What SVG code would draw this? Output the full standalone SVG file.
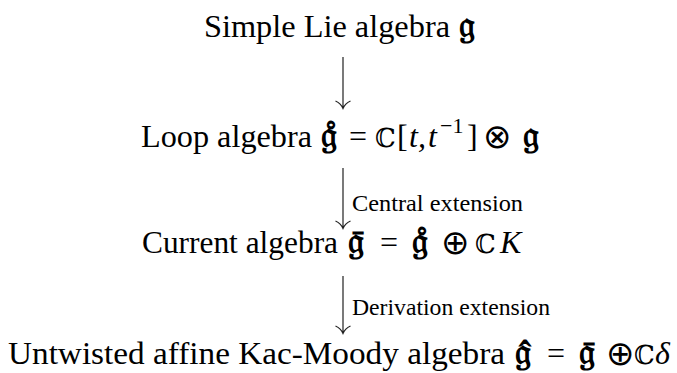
<svg xmlns="http://www.w3.org/2000/svg" width="677" height="373" viewBox="0 0 677 373">
<style>
.t{font-family:"Liberation Serif",serif;font-size:32px;fill:#000}
.i{font-family:"Liberation Serif",serif;font-size:32px;font-style:italic;fill:#000}
.m{font-family:"DejaVu Serif",serif;font-size:26px;fill:#000}
.o{font-family:"DejaVu Sans",sans-serif;font-size:34px;font-weight:200;fill:#000}
.f{font-family:"DejaVu Sans","DejaVu Serif",sans-serif;font-size:36px;font-weight:bold;fill:#000}
.l{font-family:"Liberation Serif",serif;font-size:23px;fill:#000}
.s{font-family:"Liberation Serif",serif;font-size:22px;fill:#000}
.c{fill:none;stroke:#222;stroke-width:1.2}
</style>
<g id="connectors">
<path class="c" d="M343,57 V108 M335.5,101 Q341,103.5 343,108.5 Q345,103.5 350.5,101"/>
<path class="c" d="M343,168 V228 M335.5,221 Q341,223.5 343,228.5 Q345,223.5 350.5,221"/>
<path class="c" d="M343,276 V333 M335.5,326 Q341,328.5 343,333.5 Q345,328.5 350.5,326"/>
<text class="l" x="352" y="211" textLength="171" lengthAdjust="spacingAndGlyphs">Central extension</text>
<text class="l" x="352" y="315" textLength="198" lengthAdjust="spacingAndGlyphs">Derivation extension</text>
</g>
<g id="simple">
<text class="t" x="204" y="37" textLength="246" lengthAdjust="spacingAndGlyphs">Simple Lie algebra</text>
<text class="f" x="459" y="37">𝔤</text>
</g>
<g id="loop">
<text class="t" x="141" y="147" textLength="171" lengthAdjust="spacingAndGlyphs">Loop algebra</text>
<text class="f" x="321" y="147">𝔤̊</text>
<text class="t" x="349" y="147">=</text>
<text class="m" x="375" y="147">ℂ</text>
<text class="t" x="397" y="147">[</text>
<text class="i" x="409" y="147">t,</text>
<text class="i" x="428" y="147">t</text>
<text class="s" x="440" y="133">−1</text>
<text class="t" x="467" y="147">]</text>
<text class="o" x="483" y="148">⊗</text>
<text class="f" x="523" y="147">𝔤</text>
</g>
<g id="current">
<text class="t" x="142" y="253" textLength="196" lengthAdjust="spacingAndGlyphs">Current algebra</text>
<text class="f" x="348" y="253">𝔤̄</text>
<text class="t" x="380" y="253">=</text>
<text class="f" x="412" y="253">𝔤̊</text>
<text class="o" x="441" y="254">⊕</text>
<text class="m" x="475" y="253">ℂ</text>
<text class="i" x="500" y="253">K</text>
</g>
<g id="affine">
<text class="t" x="8" y="364" textLength="497" lengthAdjust="spacingAndGlyphs">Untwisted affine Kac-Moody algebra</text>
<text class="f" x="515" y="364">𝔤̂</text>
<text class="t" x="547" y="364">=</text>
<text class="f" x="579" y="364">𝔤̄</text>
<text class="o" x="606" y="365">⊕</text>
<text class="m" x="634" y="364">ℂ</text>
<text class="i" x="655" y="364">δ</text>
</g>
</svg>
